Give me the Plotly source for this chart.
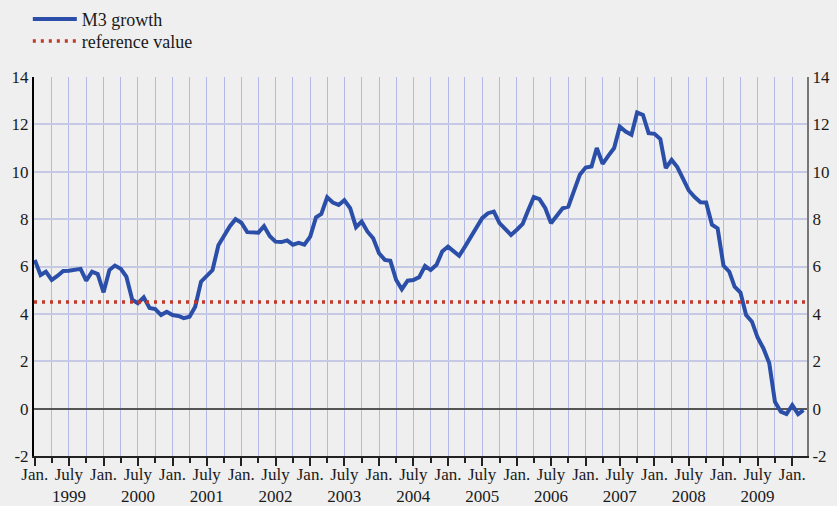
import pandas as pd
import plotly.graph_objects as go

# Monthly dates (Jan 1999 - Mar 2010)
months = pd.date_range("1999-01-01", "2010-03-01", freq="MS")

# M3 annual growth rate (%)
m3_growth = [
    6.28, 5.64, 5.78, 5.43, 5.60, 5.81, 5.82, 5.85, 5.90, 5.40, 5.78, 5.68,   # 1999
    4.91, 5.85, 6.04, 5.90, 5.57, 4.60, 4.45, 4.70, 4.25, 4.20, 3.95, 4.09,   # 2000
    3.95, 3.91, 3.82, 3.88, 4.30, 5.36, 5.60, 5.85, 6.90, 7.30, 7.70, 8.00,   # 2001
    7.85, 7.45, 7.43, 7.43, 7.70, 7.28, 7.05, 7.03, 7.10, 6.92, 7.00, 6.92,   # 2002
    7.26, 8.08, 8.22, 8.92, 8.70, 8.60, 8.80, 8.46, 7.66, 7.90, 7.47, 7.19,   # 2003
    6.56, 6.28, 6.24, 5.43, 5.04, 5.40, 5.43, 5.55, 6.02, 5.85, 6.07, 6.63,   # 2004
    6.84, 6.63, 6.45, 6.84, 7.26, 7.61, 8.04, 8.25, 8.32, 7.83, 7.57, 7.33,   # 2005
    7.55, 7.80, 8.35, 8.93, 8.84, 8.46, 7.83, 8.18, 8.46, 8.53, 9.23, 9.87,   # 2006
    10.18, 10.22, 11.00, 10.33, 10.67, 11.00, 11.91, 11.70, 11.56, 12.50, 12.40, 11.63,  # 2007
    11.60, 11.38, 10.15, 10.50, 10.20, 9.73, 9.21, 8.93, 8.71, 8.70, 7.76, 7.61,  # 2008
    6.04, 5.78, 5.15, 4.90, 3.95, 3.67, 3.00, 2.54, 1.91, 0.29, -0.13, -0.23,  # 2009
    0.15, -0.23, -0.06,                                                      # 2010
]

reference_value = 4.5

# Axis ticks
tick_dates = pd.date_range("1999-01-01", "2010-01-01", freq="6MS")
tick_labels = [("Jan." if d.month == 1 else f"July<br>{d.year}") for d in tick_dates]
y_ticks = [-2, 0, 2, 4, 6, 8, 10, 12, 14]
y_tick_labels = [str(v) for v in y_ticks]

x_range = ["1998-12-28", "2010-03-20"]

BG = "#efefef"
GRID_V = "#b3b9e6"
GRID_H = "#c6c9e4"
FONT = "Liberation Serif"
TXT = "#1a1a1a"

fig = go.Figure()

fig.add_trace(go.Scatter(
    x=months, y=m3_growth, mode="lines", name="M3 growth",
    line=dict(color="#2b4fa8", width=4), legend="legend",
))

fig.add_trace(go.Scatter(
    x=x_range, y=[reference_value, reference_value], mode="lines",
    name="reference value", yaxis="y2", legend="legend2",
    line=dict(color="#c0392b", width=3.5, dash="3px,5px"),
))

legend_style = dict(
    xanchor="left", yanchor="middle", bgcolor="rgba(0,0,0,0)",
    font=dict(family=FONT, size=18, color=TXT), itemwidth=44,
)

fig.update_layout(
    width=837, height=506,
    margin=dict(l=34, r=30, t=77, b=50, autoexpand=False),
    paper_bgcolor=BG, plot_bgcolor=BG,
    font=dict(family=FONT, size=17, color=TXT),
    showlegend=True,
    legend=dict(x=-0.008, y=1.152, **legend_style),
    legend2=dict(x=-0.008, y=1.094, **legend_style),
    xaxis=dict(
        type="date", range=x_range,
        tickmode="array", tickvals=tick_dates, ticktext=tick_labels,
        ticks="outside", ticklen=8, tickwidth=1.5, tickcolor="#222",
        ticklabelstandoff=-6,
        showgrid=True, gridcolor=GRID_V, gridwidth=1,
        minor=dict(tick0="1999-01-01", dtick="M3", ticks="outside", ticklen=5,
                   tickwidth=1.5, tickcolor="#222", showgrid=True,
                   gridcolor=GRID_V, gridwidth=1),
        showline=True, linecolor="#222", linewidth=1.5,
        tickfont=dict(family=FONT, size=17, color=TXT),
        zeroline=False,
    ),
    yaxis=dict(
        range=[-2, 14], tickmode="array", tickvals=y_ticks, ticktext=y_tick_labels,
        ticks="", showgrid=True, gridcolor=GRID_H, gridwidth=1.5,
        zeroline=True, zerolinecolor="#555555", zerolinewidth=2,
        showline=True, linecolor="#000000", linewidth=2,
        tickfont=dict(family=FONT, size=17, color=TXT),
    ),
    yaxis2=dict(
        range=[-2, 14], tickmode="array", tickvals=y_ticks, ticktext=y_tick_labels,
        overlaying="y", side="right",
        showgrid=False, zeroline=False, ticks="",
        showline=True, linecolor="#777777", linewidth=2,
        tickfont=dict(family=FONT, size=17, color=TXT),
    ),
)

fig.write_html(
    "out.html",
    config={"displayModeBar": False},
    post_script="document.body.style.margin='0';document.body.style.background='#efefef';",
)
